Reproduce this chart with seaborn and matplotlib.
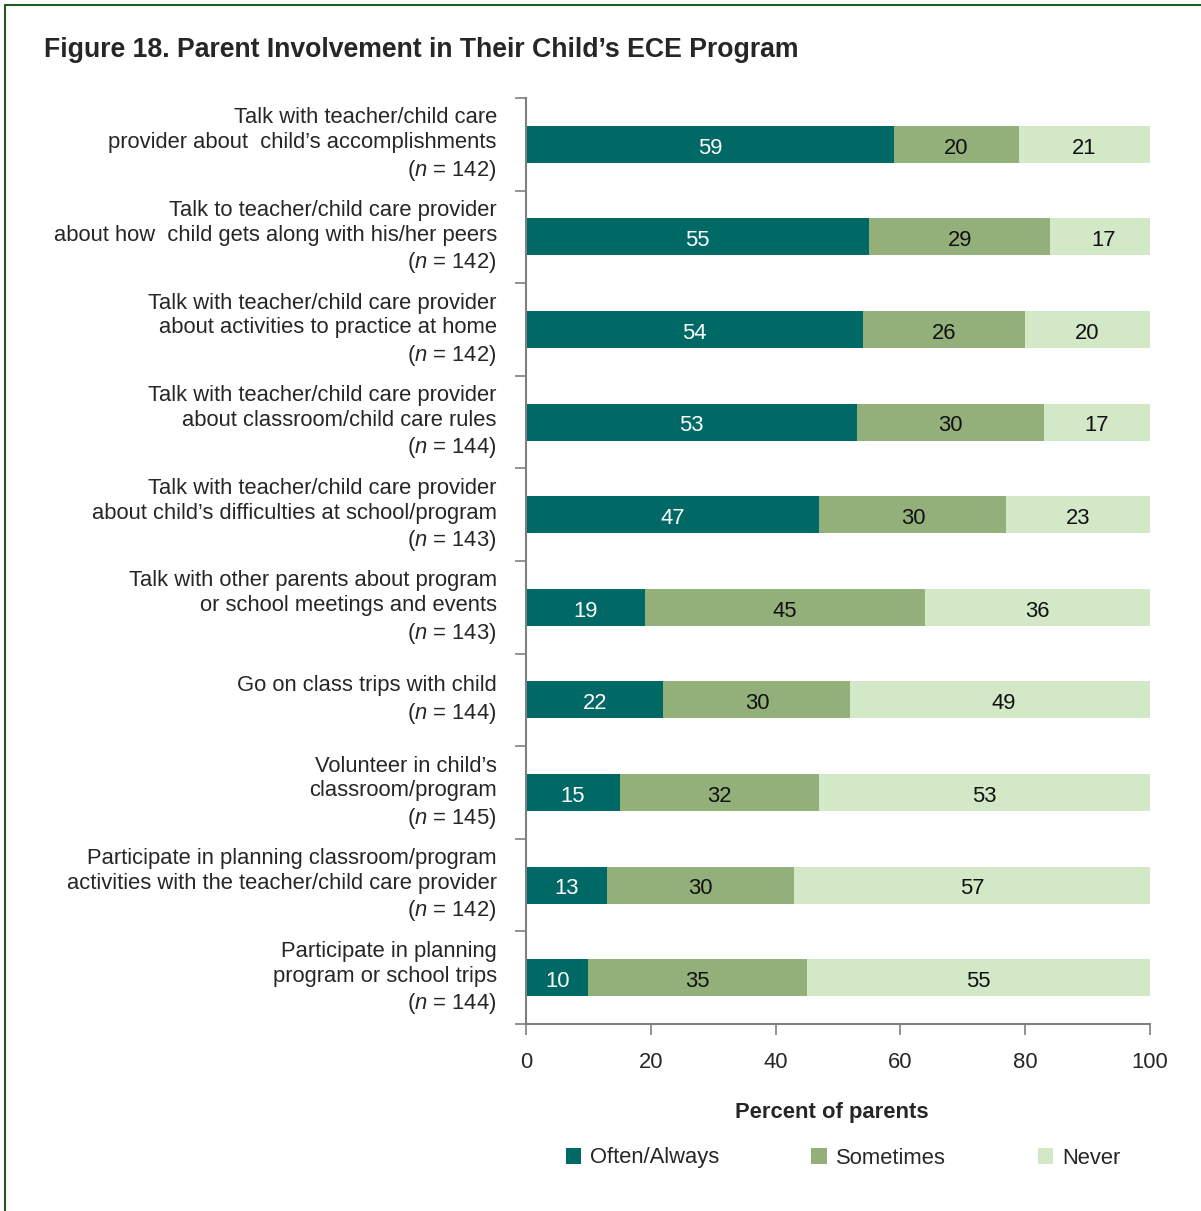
import matplotlib
matplotlib.use("Agg")
import matplotlib.pyplot as plt
from matplotlib.lines import Line2D
from matplotlib.patches import Patch
from matplotlib.transforms import ScaledTranslation
import seaborn as sns
import pandas as pd
import numpy as np

sns.set_style("white")
plt.rcParams["font.family"] = ["Liberation Sans", "DejaVu Sans"]
plt.rcParams["mathtext.fontset"] = "custom"
plt.rcParams["mathtext.rm"] = "Liberation Sans"
plt.rcParams["mathtext.it"] = "Liberation Sans:italic"

# Survey items (top to bottom) and sample sizes
items = [
    "Talk with teacher/child care\nprovider about  child\u2019s accomplishments",
    "Talk to teacher/child care provider\nabout how  child gets along with his/her peers",
    "Talk with teacher/child care provider\nabout activities to practice at home",
    "Talk with teacher/child care provider\nabout classroom/child care rules",
    "Talk with teacher/child care provider\nabout child\u2019s difficulties at school/program",
    "Talk with other parents about program\nor school meetings and events",
    "Go on class trips with child",
    "Volunteer in child\u2019s\nclassroom/program",
    "Participate in planning classroom/program\nactivities with the teacher/child care provider",
    "Participate in planning\nprogram or school trips",
]
n_sizes = [142, 142, 142, 144, 143, 143, 144, 145, 142, 144]

# Percent of parents in each response category
often = [59, 55, 54, 53, 47, 19, 22, 15, 13, 10]
sometimes = [20, 29, 26, 30, 30, 45, 30, 32, 30, 35]
never = [21, 17, 20, 17, 23, 36, 49, 53, 57, 55]

series = ["Often/Always", "Sometimes", "Never"]
colors = ["#006865", "#93B07A", "#D2E8C6"]
text_colors = ["white", "#111111", "#111111"]

FS = 15.8

labels = [f"{t}\n($\\it{{n}}$ = {n})" for t, n in zip(items, n_sizes)]

df = pd.DataFrame({"label": labels, "often": often,
                   "sometimes": sometimes, "never": never})
df["c_often"] = df["often"]
df["c_sometimes"] = df["often"] + df["sometimes"]
df["c_never"] = df["c_sometimes"] + df["never"]

fig = plt.figure(figsize=(12.01, 12.11), dpi=100)
ax = fig.add_axes([526 / 1201, 1 - 1024 / 1211, 624 / 1201, 926 / 1211])

# Stacked bars: draw cumulative totals from the back to the front
for col, color in zip(["c_never", "c_sometimes", "c_often"], colors[::-1]):
    sns.barplot(data=df, y="label", x=col, orient="h", color=color,
                width=0.4, ax=ax, saturation=1, linewidth=0, order=labels)

# Segment value labels
for i in range(len(labels)):
    left = 0
    for vals, tc in zip([often, sometimes, never], text_colors):
        v = vals[i]
        ax.text(left + v / 2, i + 0.04, f"{v}", ha="center", va="center",
                color=tc, fontsize=FS)
        left += v

ax.set_xlim(0, 100)
ax.set_ylim(len(labels) - 0.5, -0.5)
ax.set_xticks(np.arange(0, 101, 20))
ax.tick_params(axis="x", which="major", direction="out", length=8, width=1.2,
               color="#7f7f7f", labelsize=FS, pad=12, bottom=True)
ax.tick_params(axis="y", which="major", length=0, labelsize=FS, pad=21)
ax.set_yticks(np.arange(-0.5, len(labels), 1.0), minor=True)
ax.tick_params(axis="y", which="minor", direction="out", length=8, width=1.2,
               color="#7f7f7f", left=True)

# Category labels: right-aligned lines, nudged slightly upward
lift = ScaledTranslation(0, 0.05, fig.dpi_scale_trans)
for tick in ax.yaxis.get_major_ticks():
    lab = tick.label1
    lab.set_linespacing(1.24)
    lab.set_multialignment("right")
    lab.set_transform(lab.get_transform() + lift)

for side in ["top", "right"]:
    ax.spines[side].set_visible(False)
for side in ["left", "bottom"]:
    ax.spines[side].set_color("#7f7f7f")
    ax.spines[side].set_linewidth(1.5)

ax.set_ylabel("")
ax.set_xlabel("Percent of parents", fontsize=FS, fontweight="bold", labelpad=20)
ax.xaxis.set_label_coords(0.49, -0.084)

fig.text(44 / 1201, 1 - 50 / 1211, "Figure 18. Parent Involvement in Their Child\u2019s ECE Program",
         fontsize=19.2, fontweight="bold", ha="left", va="center")

handles = [Patch(facecolor=c, edgecolor="none") for c in colors]
fig.legend(handles, series, loc="center", bbox_to_anchor=(843 / 1201, 1 - 1158 / 1211),
           ncol=3, frameon=False, fontsize=FS, handlelength=0.7, handleheight=0.7,
           handletextpad=0.4, columnspacing=4.2)

# Frame around the figure
fig.add_artist(Line2D([5 / 1201, 5 / 1201], [0, 1 - 5 / 1211], transform=fig.transFigure,
                      color="#1F5C1F", linewidth=1.5))
fig.add_artist(Line2D([5 / 1201, 1], [1 - 5 / 1211, 1 - 5 / 1211], transform=fig.transFigure,
                      color="#1F5C1F", linewidth=1.5))

fig.savefig("out.png", dpi=100)
